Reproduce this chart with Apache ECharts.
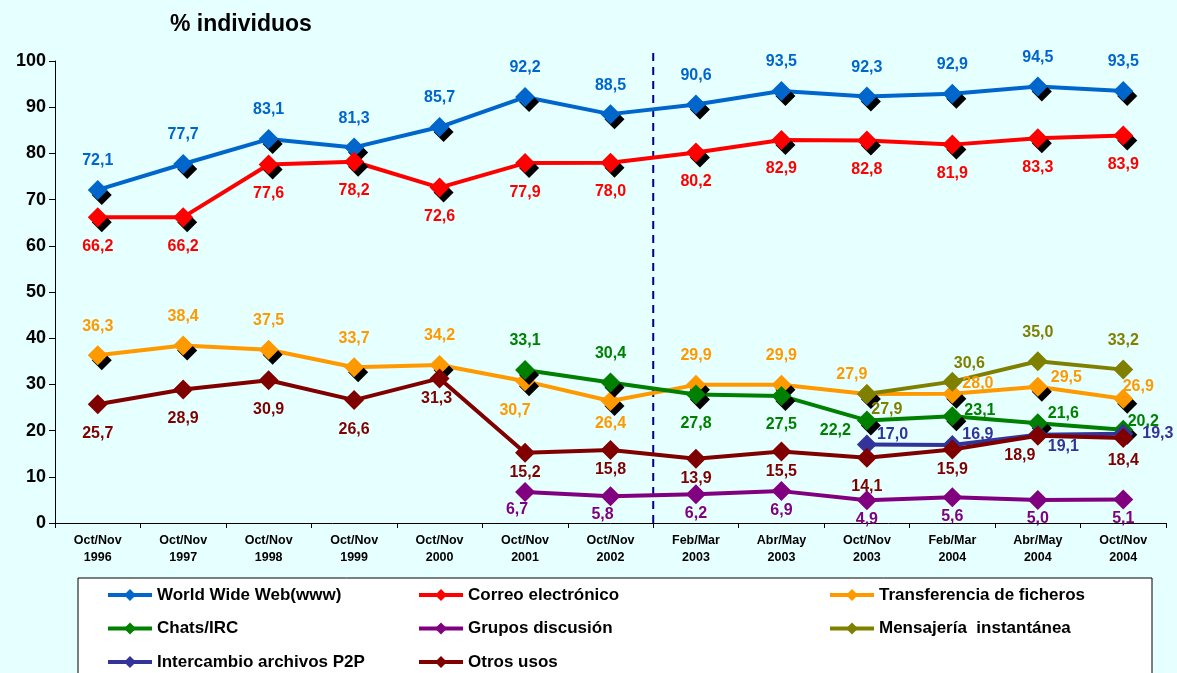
<!DOCTYPE html>
<html>
<head>
<meta charset="utf-8">
<script src="https://cdn.jsdelivr.net/npm/echarts@6/dist/echarts.min.js"></script>
<style>
html,body{margin:0;padding:0;background:#E6FFFF;}
#c{width:1177px;height:673px;}
</style>
</head>
<body>
<div id="c"></div>
<script>
const categories = ['Oct/Nov\n1996','Oct/Nov\n1997','Oct/Nov\n1998','Oct/Nov\n1999','Oct/Nov\n2000','Oct/Nov\n2001','Oct/Nov\n2002','Feb/Mar\n2003','Abr/May\n2003','Oct/Nov\n2003','Feb/Mar\n2004','Abr/May\n2004','Oct/Nov\n2004'];
const yTicks = [0,10,20,30,40,50,60,70,80,90,100];

const www        = [72.1,77.7,83.1,81.3,85.7,92.2,88.5,90.6,93.5,92.3,92.9,94.5,93.5];
const correo     = [66.2,66.2,77.6,78.2,72.6,77.9,78.0,80.2,82.9,82.8,81.9,83.3,83.9];
const transf     = [36.3,38.4,37.5,33.7,34.2,30.7,26.4,29.9,29.9,27.9,28.0,29.5,26.9];
const chats      = [null,null,null,null,null,33.1,30.4,27.8,27.5,22.2,23.1,21.6,20.2];
const grupos     = [null,null,null,null,null,6.7,5.8,6.2,6.9,4.9,5.6,5.0,5.1];
const mensajeria = [null,null,null,null,null,null,null,null,null,27.9,30.6,35.0,33.2];
const p2p        = [null,null,null,null,null,null,null,null,null,17.0,16.9,19.1,19.3];
const otros      = [25.7,28.9,30.9,26.6,31.3,15.2,15.8,13.9,15.5,14.1,15.9,18.9,18.4];

// label placement styles (kept apart from the values)
const labelStyles = {
  t:   {position:'top', distance:11},
  b:   {position:'bottom', distance:11},
  bl10:{position:'bottom', distance:11, offset:[-10,0]},
  b5:  {position:'bottom', distance:5},
  bn:  {position:'bottom', distance:2},
  bp:  {position:'bottom', distance:1},
  bp6: {position:'bottom', distance:0, offset:[-8,0]},
  bl31:{position:'bottom', distance:2, offset:[-3,0]},
  bl18:{position:'bottom', distance:2, offset:[-18,0]},
  tl:  {position:'top', distance:2, offset:[-15,0]},
  tr1: {position:'top', distance:0, offset:[17,0]},
  tr2: {position:'top', distance:-6, offset:[15,0]},
  tr3: {position:'top', distance:-10, offset:[20,0]},
  br:  {position:'bottom', distance:-3, offset:[20,0]},
  lb:  {position:'left', distance:6, offset:[0,10]},
  rt:  {position:'right', distance:2, offset:[0,-6]},
  rt10:{position:'right', distance:0, offset:[0,-10]},
  rt9: {position:'right', distance:3, offset:[0,-9]},
  rb:  {position:'right', distance:0, offset:[0,12]},
  r9:  {position:'right', distance:9}
};
const posWww    = Array(13).fill('t');
const posCorreo = Array(13).fill('b');
const posTransf = ['t','t','t','t','t','bl10','b5','t','t','tl','rt10','rt9','tr2'];
const posChats  = [null,null,null,null,null,'t','t','b','b','lb','rt','rt10','tr3'];
const posGrupos = [null,null,null,null,null,'bp6','bp6','bp','bp','bp','bp','bp','bp'];
const posMens   = [null,null,null,null,null,null,null,null,null,'br','tr1','t','t'];
const posP2p    = [null,null,null,null,null,null,null,null,null,'rt10','rt10','rb','r9'];
const posOtros  = ['b','b','b','b','bl31','bn','bn','bn','bn','b','bn','bl18','b5'];

const FONT = 'Liberation Sans, Arial, sans-serif';
function mk(name, values, pos, color, shadow){
  return {
    name:name, type:'line', xAxisIndex:0, yAxisIndex:0,
    data: values.map((v,i)=> v==null ? null : {value:v, label:labelStyles[pos[i]]}),
    symbol:'diamond', symbolSize:20,
    lineStyle:{color:color, width:4},
    itemStyle: shadow ? {color:color, shadowColor:'#000', shadowBlur:0, shadowOffsetX:4, shadowOffsetY:5} : {color:color},
    label:{show:true, color:color, fontFamily:FONT, fontWeight:'bold', fontSize:16,
      formatter: p => p.value.toFixed(1).replace('.',',')},
    emphasis:{disabled:true}, animation:false, z:3
  };
}

const chart = echarts.init(document.getElementById('c'), null, {renderer:'canvas'});
const lgText = {color:'#000', fontFamily:FONT, fontWeight:'bold', fontSize:17, lineHeight:20};
function legend(names, left){
  return {data:names, orient:'vertical', left:left, top:585, height:120, padding:0,
    itemWidth:44, itemHeight:15, itemGap:13.5, itemStyle:{shadowBlur:0, shadowOffsetX:0, shadowOffsetY:0},
    lineStyle:{width:4},
    textStyle:lgText, selectedMode:false};
}
chart.setOption({
  backgroundColor:'#E6FFFF',
  animation:false,
  title:{text:'% individuos', left:165, top:8, textStyle:{fontFamily:FONT, fontWeight:'bold', fontSize:23, color:'#000'}},
  grid:{left:55, right:11, top:61, bottom:150, containLabel:false},
  graphic:[{type:'rect', shape:{x:78, y:578, width:1074, height:110}, style:{fill:'#fff', stroke:'#000', lineWidth:1}, z:0}],
  legend:[
    legend(['World Wide Web(www)','Chats/IRC','Intercambio archivos P2P'],106),
    legend(['Correo electrónico','Grupos discusión','Otros usos'],417),
    legend(['Transferencia de ficheros','Mensajería  instantánea'],828)
  ],
  xAxis:[{
    type:'category', data:categories, boundaryGap:true,
    axisLine:{lineStyle:{color:'#000', width:1}},
    axisTick:{show:true, length:5, lineStyle:{color:'#000'}},
    axisLabel:{color:'#000', fontFamily:FONT, fontWeight:'bold', fontSize:12.5, lineHeight:17, margin:9, interval:0}
  },{
    type:'value', min:0, max:13, show:false
  }],
  yAxis:{
    type:'value', min:yTicks[0], max:yTicks[yTicks.length-1], interval:10,
    axisLine:{show:true, lineStyle:{color:'#000'}},
    axisTick:{show:true, length:6, lineStyle:{color:'#000'}},
    splitLine:{show:false},
    axisLabel:{color:'#000', fontFamily:FONT, fontWeight:'bold', fontSize:18, margin:9}
  },
  series:[
    {type:'line', xAxisIndex:1, yAxisIndex:0, data:[[7,0],[7,102]], symbol:'none', clip:false, silent:true,
     lineStyle:{color:'#000080', width:2, type:[8,6]}, z:1, animation:false},
    mk('World Wide Web(www)', www, posWww, '#0066CC', true),
    mk('Correo electrónico', correo, posCorreo, '#FF0000', true),
    mk('Transferencia de ficheros', transf, posTransf, '#FF9900', true),
    mk('Chats/IRC', chats, posChats, '#008000', true),
    mk('Grupos discusión', grupos, posGrupos, '#800080', false),
    mk('Mensajería  instantánea', mensajeria, posMens, '#808000', false),
    mk('Intercambio archivos P2P', p2p, posP2p, '#333399', false),
    mk('Otros usos', otros, posOtros, '#800000', false)
  ]
});
</script>
</body>
</html>
